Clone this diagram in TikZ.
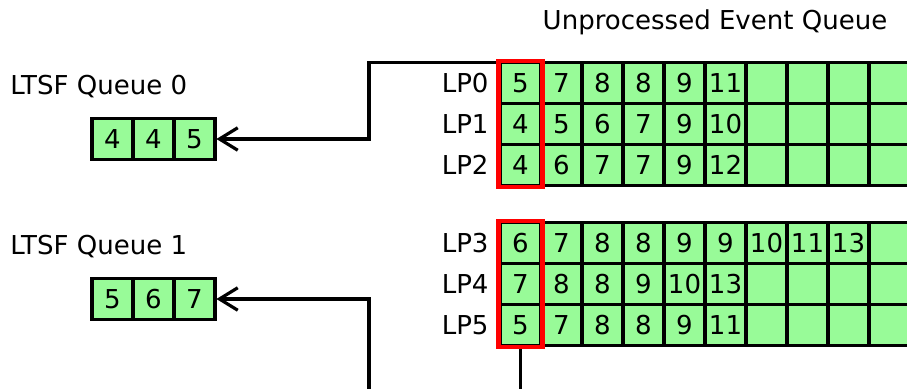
\documentclass[tikz,border=0pt]{standalone}
\usepackage{fontspec}
\setmainfont{DejaVu Sans}
\usepackage{tikz}
\usetikzlibrary{arrows.meta,positioning,fit}
\definecolor{cellgreen}{RGB}{152,251,152}

\begin{document}
\begin{tikzpicture}[x=0.025cm,y=-0.025cm,
  every node/.style={inner sep=0pt,font=\fontsize{18.5}{22}\selectfont},
  cell/.style={draw=black,fill=cellgreen,line width=0.085cm,minimum size=1.025cm,outer sep=0pt},
  redbox/.style={draw=red,line width=0.11cm,inner sep=0.04cm},
  link/.style={line width=0.08cm,-{Straight Barb[length=13pt,width=16pt,line width=0.08cm]},shorten >=1pt}]
\useasboundingbox (0,0) rectangle (907,388);

% Title
\node (title) at (715,22) {Unprocessed Event Queue};

% Event queue rows
\foreach \r/\y/\vals in {0/83/{5,7,8,8,9,11,{},{},{},{}},
                         1/124/{4,5,6,7,9,10,{},{},{},{}},
                         2/165/{4,6,7,7,9,12,{},{},{},{}},
                         3/243/{6,7,8,8,9,9,10,11,13,{}},
                         4/284/{7,8,8,9,10,13,{},{},{},{}},
                         5/325/{5,7,8,8,9,11,{},{},{},{}}}{
  \foreach \v [count=\k] in \vals
    \node[cell] (c\r-\k) at ({479.5+41*\k},\y) {\v};
  \node[left=0.28cm of c\r-1] (lp\r) {LP\r};
}

% Red boxes round the first column
\node[redbox,fit=(c0-1)(c2-1)] (red0) {};
\node[redbox,fit=(c3-1)(c5-1)] (red1) {};

% LTSF queues
\foreach \q/\y/\vals in {0/139/{4,4,5}, 1/299/{5,6,7}}{
  \foreach \v [count=\k] in \vals
    \node[cell] (q\q-\k) at ({71.5+41*\k},\y) {\v};
  \node[anchor=west] (ltsf\q) at (10,{\y-52}) {LTSF Queue \q};
}

% Connectors
\coordinate (bend0) at (369,100);
\coordinate (bend1) at (369,420);
\draw[link] (red0.west |- c0-1.north) -| (bend0) |- (q0-3.east);
\draw[link] (red1.south) |- (bend1) |- (q1-3.east);
\end{tikzpicture}
\end{document}
